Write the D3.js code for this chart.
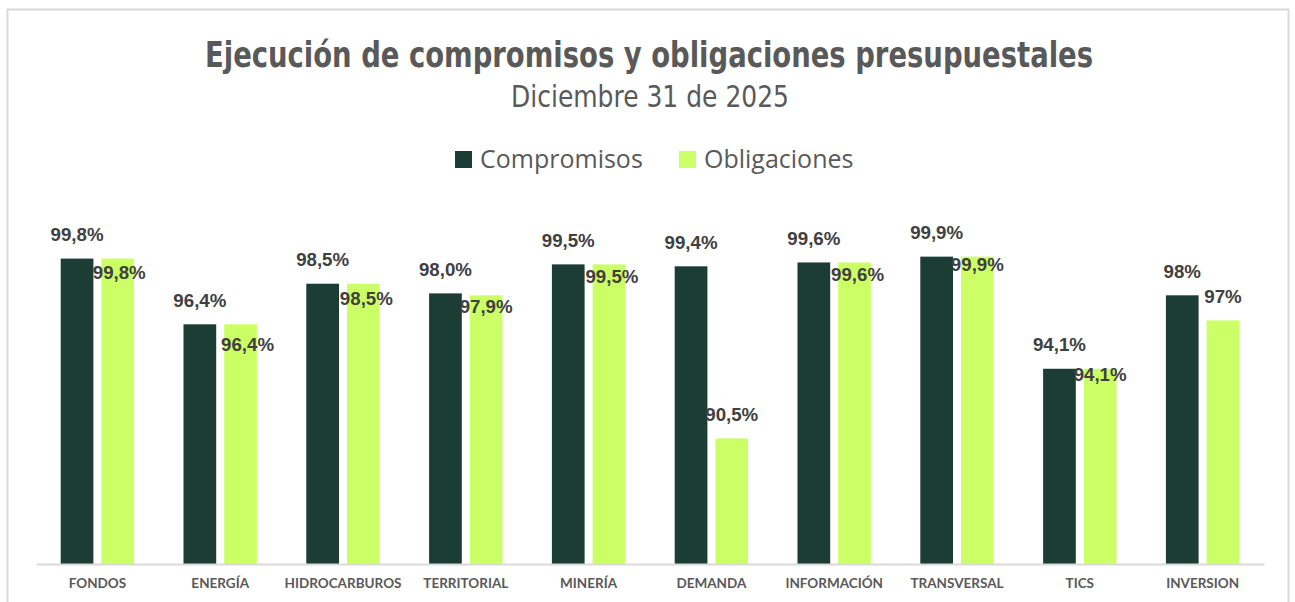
<!DOCTYPE html>
<html>
<head>
<meta charset="utf-8">
<script src="https://cdn.jsdelivr.net/npm/d3@7"></script>
<style>
  body { margin: 0; background: #fff; }
  svg { display: block; }
</style>
</head>
<body>
<svg id="chart" width="1295" height="602"></svg>
<script>
// data
var categories = ["FONDOS", "ENERGÍA", "HIDROCARBUROS", "TERRITORIAL", "MINERÍA",
                  "DEMANDA", "INFORMACIÓN", "TRANSVERSAL", "TICS", "INVERSION"];
var compromisos = [99.8, 96.4, 98.5, 98.0, 99.5, 99.4, 99.6, 99.9, 94.1, 97.9];
var obligaciones = [99.8, 96.4, 98.5, 97.9, 99.5, 90.5, 99.6, 99.9, 94.1, 96.6];
// INVERSION is labelled without decimals in the source
var labelDecimals = [1, 1, 1, 1, 1, 1, 1, 1, 1, 0];
var seriesNames = ["Compromisos", "Obligaciones"];

// obligaciones labels sit where excel left them (offset from bar top)
var oblLabelDy = [20, 27, 21, 18, 19, -17, 19, 14, 12, -17];
var oblLabelDx = [1.5, 7, 3, 0, 3, 0, 3, 0, 0, 0];

var colors = {"Compromisos": "#1b3d33", "Obligaciones": "#ccff66"};

var svg = d3.select("#chart");

// chart frame
svg.append("rect")
  .attr("x", 7.5).attr("y", 9.5)
  .attr("width", 1281).attr("height", 620)
  .attr("fill", "#fff")
  .attr("stroke", "#d9d9d9")
  .attr("stroke-width", 2);

// titles
svg.append("text")
  .attr("x", 649).attr("y", 66.5)
  .attr("text-anchor", "middle")
  .attr("font-family", "'Liberation Sans Narrow', 'DejaVu Sans Condensed', 'Roboto', sans-serif")
  .attr("font-weight", 700)
  .attr("font-size", 36)
  .attr("fill", "#595959")
  .attr("textLength", 888)
  .attr("lengthAdjust", "spacingAndGlyphs")
  .text("Ejecución de compromisos y obligaciones presupuestales");

svg.append("text")
  .attr("x", 650).attr("y", 106.5)
  .attr("text-anchor", "middle")
  .attr("font-family", "'Liberation Sans Narrow', 'DejaVu Sans Condensed', 'Roboto', sans-serif")
  .attr("font-size", 30)
  .attr("fill", "#595959")
  .attr("textLength", 278)
  .attr("lengthAdjust", "spacingAndGlyphs")
  .text("Diciembre 31 de 2025");

// legend
var legendX = [455, 679];
var legend = svg.append("g").selectAll("g")
  .data(seriesNames)
  .enter().append("g")
    .attr("transform", function(d, i) { return "translate(" + legendX[i] + ",151)"; });
legend.append("rect")
  .attr("width", 17).attr("height", 17)
  .attr("fill", function(d) { return colors[d]; });
legend.append("text")
  .attr("x", 25).attr("y", 17)
  .attr("font-family", "'Open Sans', 'Noto Sans', sans-serif")
  .attr("font-size", 25)
  .attr("fill", "#595959")
  .text(function(d) { return d; });

// scales
var plotLeft = 36, plotRight = 1264, baseY = 564;
var x = d3.scaleBand()
  .domain(categories)
  .range([plotLeft, plotRight])
  .padding(0);

var groupW = 73.4;
var xInner = d3.scaleBand()
  .domain(seriesNames)
  .range([(x.bandwidth() - groupW) / 2, (x.bandwidth() + groupW) / 2])
  .paddingInner(0.1966)
  .paddingOuter(0);

var y = d3.scaleLinear()
  .domain([84, 100])
  .range([baseY, baseY - 16 * 19.33]);

var rows = categories.map(function(c, i) {
  return {
    cat: c, i: i,
    values: [
      {series: "Compromisos", value: compromisos[i]},
      {series: "Obligaciones", value: obligaciones[i]}
    ]
  };
});

var groups = svg.append("g").selectAll("g")
  .data(rows)
  .enter().append("g")
    .attr("transform", function(d) { return "translate(" + x(d.cat) + ",0)"; });

groups.selectAll("rect")
  .data(function(d) { return d.values; })
  .enter().append("rect")
    .attr("x", function(d) { return xInner(d.series); })
    .attr("y", function(d) { return y(d.value); })
    .attr("width", xInner.bandwidth())
    .attr("height", function(d) { return baseY - y(d.value); })
    .attr("fill", function(d) { return colors[d.series]; });

// axis line + category labels
var xAxis = svg.append("g")
  .attr("transform", "translate(0," + baseY + ")")
  .call(d3.axisBottom(x).tickSize(0).tickPadding(14));
xAxis.select(".domain")
  .attr("stroke", "#d9d9d9")
  .attr("stroke-width", 2);
xAxis.selectAll("text")
  .attr("font-family", "Lato, 'Open Sans', sans-serif")
  .attr("font-weight", 700)
  .attr("font-size", 13.5)
  .attr("fill", "#595959");

// data labels
function fmt(v, dec) {
  return v.toFixed(dec).replace(".", ",") + "%";
}

var labels = svg.append("g")
  .attr("font-family", "'Liberation Sans', Arial, sans-serif")
  .attr("font-weight", 700)
  .attr("font-size", 18.7)
  .attr("fill", "#404040")
  .attr("text-anchor", "middle");

labels.selectAll("text.comp")
  .data(rows)
  .enter().append("text")
    .attr("class", "comp")
    .attr("x", function(d) { return x(d.cat) + xInner("Compromisos") + xInner.bandwidth() / 2; })
    .attr("y", function(d) { return y(compromisos[d.i]) - 17.5; })
    .text(function(d) { return fmt(compromisos[d.i], labelDecimals[d.i]); });

labels.selectAll("text.obl")
  .data(rows)
  .enter().append("text")
    .attr("class", "obl")
    .attr("x", function(d) { return x(d.cat) + xInner("Obligaciones") + xInner.bandwidth() / 2 + oblLabelDx[d.i]; })
    .attr("y", function(d) { return y(obligaciones[d.i]) + oblLabelDy[d.i]; })
    .text(function(d) { return fmt(obligaciones[d.i], labelDecimals[d.i]); });
</script>
</body>
</html>
